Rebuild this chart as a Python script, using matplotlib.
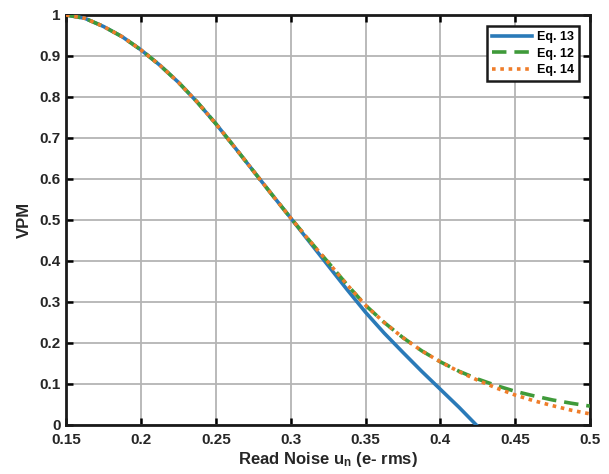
import matplotlib
matplotlib.use("Agg")
from matplotlib import pyplot as plt

# values
x_common = [0.15, 0.1625, 0.175, 0.1875, 0.2, 0.2125, 0.225, 0.2375,
            0.25, 0.2625, 0.275, 0.2875, 0.3]
y_common = [1.000, 0.992, 0.972, 0.947, 0.915, 0.878, 0.836, 0.788,
            0.735, 0.678, 0.620, 0.562, 0.505]

x_eq13 = x_common + [0.3125, 0.325, 0.3375, 0.35, 0.3625, 0.375, 0.3875,
                     0.4, 0.4125, 0.424]
y_eq13 = y_common + [0.447, 0.389, 0.331, 0.275, 0.224, 0.177, 0.131,
                     0.087, 0.043, 0.0]

x_tail = [0.3125, 0.325, 0.3375, 0.35, 0.3625, 0.375, 0.3875, 0.4,
          0.4125, 0.425, 0.4375, 0.45, 0.4625, 0.475, 0.4875, 0.5]
x_eq12 = x_common + x_tail
y_eq12 = y_common + [0.450, 0.397, 0.343, 0.292, 0.250, 0.213, 0.181, 0.154,
                     0.131, 0.112, 0.096, 0.082, 0.071, 0.061, 0.053, 0.046]
x_eq14 = x_common + x_tail
y_eq14 = y_common + [0.450, 0.397, 0.343, 0.292, 0.250, 0.213, 0.181, 0.154,
                     0.130, 0.109, 0.090, 0.073, 0.059, 0.047, 0.036, 0.027]

xticks = [0.15, 0.2, 0.25, 0.3, 0.35, 0.4, 0.45, 0.5]
xtick_labels = ["0.15", "0.2", "0.25", "0.3", "0.35", "0.4", "0.45", "0.5"]
yticks = [0, 0.1, 0.2, 0.3, 0.4, 0.5, 0.6, 0.7, 0.8, 0.9, 1]
ytick_labels = ["0", "0.1", "0.2", "0.3", "0.4", "0.5", "0.6", "0.7", "0.8", "0.9", "1"]

plt.rcParams["font.family"] = ["Liberation Sans", "DejaVu Sans"]
plt.rcParams["font.weight"] = "bold"
plt.rcParams["axes.labelweight"] = "bold"
plt.rcParams["mathtext.fontset"] = "custom"
plt.rcParams["mathtext.bf"] = "Liberation Sans:bold"
plt.rcParams["mathtext.rm"] = "Liberation Sans:bold"
plt.rcParams["mathtext.default"] = "bf"

fig = plt.figure(figsize=(6.09, 4.74), dpi=100)
ax = fig.add_axes([0.1084, 0.1034, 0.8606, 0.8650])

ax.plot(x_eq13, y_eq13, color="#2a7ab8", lw=2.6, label="Eq. 13", zorder=3)
ax.plot(x_eq12, y_eq12, color="#3f9a3a", lw=2.6, ls=(0, (4, 2.2)),
        label="Eq. 12", zorder=4)
ax.plot(x_eq14, y_eq14, color="#ef7d2a", lw=2.6, ls=(0, (1, 1.3)),
        label="Eq. 14", zorder=5)

ax.set_xlim(0.15, 0.5)
ax.set_ylim(0, 1)
ax.set_xticks(xticks)
ax.set_xticklabels(xtick_labels)
ax.set_yticks(yticks)
ax.set_yticklabels(ytick_labels)
ax.grid(True, color="#b4b4b4", lw=1.3)
ax.set_axisbelow(True)
ax.tick_params(axis="both", direction="in", top=True, right=True,
               length=5, width=1.8, labelsize=11, labelcolor="#262626")
ax.tick_params(axis="x", pad=6)
ax.tick_params(axis="y", pad=4)
for s in ax.spines.values():
    s.set_linewidth(2)
    s.set_color("#1a1a1a")

ax.set_xlabel("Read Noise u$_n$ (e- rms)", fontsize=12, color="#262626", labelpad=2)
ax.set_ylabel("VPM", fontsize=12, color="#262626", labelpad=5)

leg = ax.legend(loc="upper right", fontsize=9, handlelength=3.2,
                borderaxespad=0.9, fancybox=False, framealpha=1,
                labelspacing=0.35, borderpad=0.4, handletextpad=0.4)
leg.get_frame().set_edgecolor("#1a1a1a")
leg.get_frame().set_linewidth(1.8)

fig.savefig("out.png", dpi=100)
